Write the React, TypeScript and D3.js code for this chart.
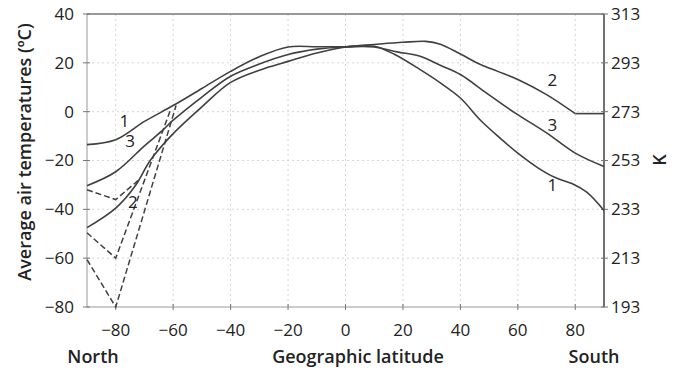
import React from "react";
import * as d3 from "d3";

const latTicks = [-80, -60, -40, -20, 0, 20, 40, 60, 80];
const tempTicks = [40, 20, 0, -20, -40, -60, -80];
const kelvinTicks = [313, 293, 273, 253, 233, 213, 193];

// Solid curves: [latitude, temperature °C]
const curve1: [number, number][] = [
  [-90, -13.5], [-80, -11.5], [-70, -4], [-60, 2.5], [-50, 9.5], [-40, 16.5], [-30, 22.5], [-20, 26.5], [-10, 26.6], [0, 26.6], [10, 26.8], [17, 23.5], [26, 17.2], [33, 11.8], [40, 5.6], [47, -3.5], [54, -11], [60, -17], [67, -23], [73, -27], [79, -29.5], [84, -33], [90, -40.5],
];
const curve2: [number, number][] = [
  [-90, -47.5], [-80, -39.5], [-73, -30], [-68, -20], [-60, -9], [-50, 2], [-40, 12], [-30, 17], [-20, 20.6], [-10, 24], [0, 26.5], [10, 27.5], [20, 28.4], [28, 28.8], [33, 27.6], [40, 23.6], [47, 19.3], [53, 16.5], [60, 13.2], [70, 7], [80, -0.8],
];
const curve2Plateau: [number, number][] = [[80, -0.8], [90, -0.8]];
const curve3: [number, number][] = [
  [-90, -30.3], [-80, -24.6], [-70, -14], [-64, -8], [-60, -3.5], [-50, 6], [-40, 14.5], [-30, 19.5], [-20, 23.4], [-10, 25.6], [0, 26.5], [10, 26.5], [18, 24.5], [26, 22.7], [33, 19], [40, 15.2], [49, 7.7], [59, -0.5], [70, -8.7], [80, -17], [90, -22.5],
];
// Dashed variants
const dashA: [number, number][] = [[-90, -32], [-80, -36], [-72, -28]];
const dashB: [number, number][] = [[-90, -49.6], [-80, -60], [-61, 0.5]];
const dashC: [number, number][] = [[-90, -60.6], [-80, -80], [-59, 2.5]];

const curveLabels: { text: string; lat: number; t: number }[] = [
  { text: "1", lat: -77, t: -4 },
  { text: "3", lat: -75, t: -12 },
  { text: "2", lat: -74, t: -37 },
  { text: "2", lat: 72, t: 13 },
  { text: "3", lat: 72, t: -5.5 },
  { text: "1", lat: 72, t: -30 },
];

export default function App() {
  const W = 674;
  const H = 371;
  const x = d3.scaleLinear().domain([-90, 90]).range([87, 604]);
  const y = d3.scaleLinear().domain([-80, 40]).range([307, 14]);
  const smooth = d3
    .line<[number, number]>()
    .x((d) => x(d[0]))
    .y((d) => y(d[1]))
    .curve(d3.curveCatmullRom.alpha(0.5));
  const straight = d3
    .line<[number, number]>()
    .x((d) => x(d[0]))
    .y((d) => y(d[1]));

  const font = "'Open Sans', 'Noto Sans', sans-serif";
  const ink = "#404040";

  return (
    <svg width={W} height={H} style={{ position: "absolute", left: 0, top: 0, background: "#fff" }}>
      {/* grid */}
      {latTicks.map((t) => (
        <line key={"gx" + t} x1={x(t)} x2={x(t)} y1={y(40)} y2={y(-80)} stroke="#c8c8c8" strokeWidth={0.8} strokeDasharray="2,3" />
      ))}
      {tempTicks.slice(1, -1).map((t) => (
        <line key={"gy" + t} x1={x(-90)} x2={x(90)} y1={y(t)} y2={y(t)} stroke="#cccccc" strokeWidth={0.8} strokeDasharray="2,3" />
      ))}
      {/* frame */}
      <rect x={x(-90)} y={y(40)} width={x(90) - x(-90)} height={y(-80) - y(40)} fill="none" stroke="#999" strokeWidth={1} />
      <line x1={x(-90)} x2={x(90)} y1={y(40)} y2={y(40)} stroke="#666" strokeWidth={1.2} />
      <line x1={x(90)} x2={x(90)} y1={y(40)} y2={y(-80)} stroke="#555" strokeWidth={1.5} />
      {/* ticks */}
      {tempTicks.map((t) => (
        <g key={"ty" + t}>
          <line x1={x(-90) - 4} x2={x(-90) + 3} y1={y(t)} y2={y(t)} stroke="#777" strokeWidth={1} />
          <line x1={x(90) - 3} x2={x(90) + 4} y1={y(t)} y2={y(t)} stroke="#777" strokeWidth={1} />
          <text x={74} y={y(t)} dy="0.35em" textAnchor="end" fontFamily={font} fontSize={17} fill="#222">
            {t < 0 ? "\u2212" + Math.abs(t) : String(t)}
          </text>
        </g>
      ))}
      {kelvinTicks.map((k, i) => (
        <text key={"k" + k} x={611} y={y(tempTicks[i])} dy="0.35em" textAnchor="start" fontFamily={font} fontSize={17} fill="#222">
          {k}
        </text>
      ))}
      {latTicks.map((t) => (
        <g key={"tx" + t}>
          <line x1={x(t)} x2={x(t)} y1={y(-80) - 3} y2={y(-80) + 3} stroke="#777" strokeWidth={1} />
          <text x={x(t)} y={336} textAnchor="middle" fontFamily={font} fontSize={17} fill="#222">
            {t < 0 ? "\u2212" + Math.abs(t) : String(t)}
          </text>
        </g>
      ))}
      {/* curves */}
      {[curve1, curve2, curve3].map((c, i) => (
        <path key={"c" + i} d={smooth(c) || ""} fill="none" stroke={ink} strokeWidth={1.6} />
      ))}
      <path d={straight(curve2Plateau) || ""} fill="none" stroke={ink} strokeWidth={1.6} />
      {[dashA, dashB, dashC].map((c, i) => (
        <path key={"d" + i} d={straight(c) || ""} fill="none" stroke={ink} strokeWidth={1.5} strokeDasharray="6,3" />
      ))}
      {curveLabels.map((l, i) => (
        <text key={"l" + i} x={x(l.lat)} y={y(l.t)} dy="0.35em" textAnchor="middle" fontFamily={font} fontSize={17} fill="#222">
          {l.text}
        </text>
      ))}
      {/* axis titles */}
      <text transform="translate(31,152) rotate(-90)" textAnchor="middle" fontFamily={font} fontSize={18} fontWeight={600} fill="#222">
        Average air temperatures (ºC)
      </text>
      <text transform="translate(666,160) rotate(-90)" textAnchor="middle" fontFamily={font} fontSize={18} fontWeight={600} fill="#222">
        K
      </text>
      <text x={93} y={363} textAnchor="middle" fontFamily={font} fontSize={18} fontWeight={600} fill="#222">
        North
      </text>
      <text x={358} y={363} textAnchor="middle" fontFamily={font} fontSize={18} fontWeight={600} fill="#222">
        Geographic latitude
      </text>
      <text x={594} y={363} textAnchor="middle" fontFamily={font} fontSize={18} fontWeight={600} fill="#222">
        South
      </text>
    </svg>
  );
}
